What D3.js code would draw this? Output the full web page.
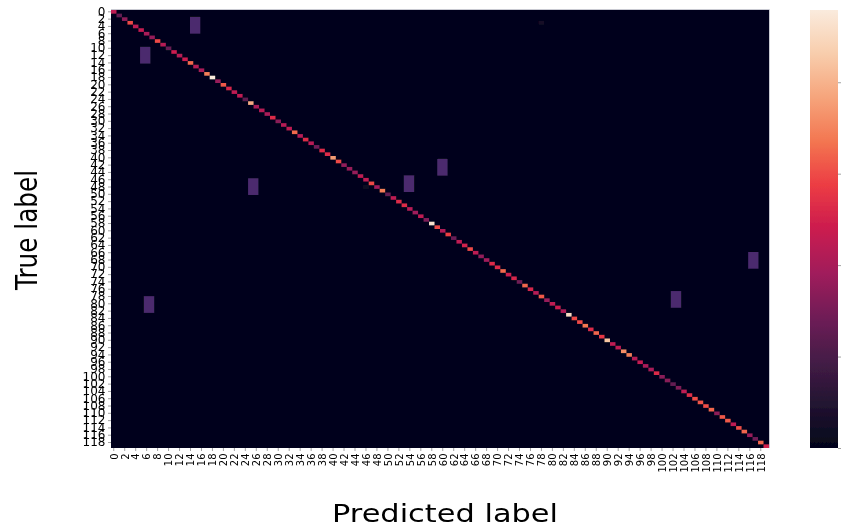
<!DOCTYPE html>
<html><head><meta charset="utf-8">
<script src="https://cdn.jsdelivr.net/npm/d3@7"></script>
<style>html,body{margin:0;padding:0;background:#fff}svg{display:block}text{font-family:"DejaVu Sans";fill:#000}</style>
</head><body><svg id="c" width="841" height="527"></svg>
<script>
const classes = d3.range(120);
const tickLabels = d3.range(0, 120, 2);
const diagonal = [
.47,.27,.36,.62,.47,.48,.42,.38,.62,.45,.28,.5,.45,.5,.68,.45,.42,.72,1,.38,
.65,.53,.47,.47,.25,.82,.42,.45,.42,.55,.35,.45,.47,.68,.45,.55,.45,.3,.55,.55,
.78,.62,.37,.38,.38,.47,.47,.62,.4,.72,.27,.47,.55,.55,.45,.4,.47,.33,.97,.62,
.43,.6,.28,.47,.52,.62,.47,.37,.4,.55,.55,.68,.5,.53,.3,.67,.53,.45,.65,.38,
.47,.5,.43,.95,.62,.62,.7,.55,.67,.58,.88,.47,.47,.75,.72,.45,.48,.42,.42,.55,
.35,.35,.27,.33,.47,.56,.63,.64,.63,.67,.36,.65,.65,.47,.63,.67,.38,.3,.67,.52];
const patchCols = [14.4,5.3,25.0,53.4,59.5,116.2,102.1,6.0];
const patchRows = [1.9,10.1,46.1,45.3,40.8,66.3,77.0,78.4];
const patchColSpan = 1.88, patchRowSpan = 4.58;
const faintCols = [78,46], faintRows = [3,48], faintValues = [.06,.04];
const rocketStops = ["#03051a","#221331","#451c47","#701f57","#a11a5b","#cb1b4f","#ec3c43","#f37651","#f6a47b","#f8cdac","#faebdd"];
const colorbarTicks = [0,1,2,3,4];
const colorbarMax = 4.79;
const patchColor = "#4b2b6e";

const svg = d3.select("#c");
const defs = svg.append("defs");
const f = defs.append("filter").attr("id","soft").attr("x","-2%").attr("y","-2%").attr("width","104%").attr("height","104%");
f.append("feGaussianBlur").attr("stdDeviation",0.4);
const root = svg.append("g").attr("filter","url(#soft)");

const L=111,R=769,T=10,B=448;
const x = d3.scaleBand().domain(classes).range([L,R]);
const y = d3.scaleBand().domain(classes).range([T,B]);
const xc = d3.scaleLinear().domain([0,120]).range([L,R]);
const yc = d3.scaleLinear().domain([0,120]).range([T,B]);
const color = d3.scaleLinear().domain(rocketStops.map((d,i)=>i/(rocketStops.length-1))).range(rocketStops).interpolate(d3.interpolateRgb);

root.append("rect").attr("x",L).attr("y",T).attr("width",R-L).attr("height",B-T).attr("fill",color(0));
root.append("path").attr("d",`M${L},${T-.5}H${R+.5}V${B}`).attr("fill","none").attr("stroke","#c9cad2").attr("stroke-width",1);

root.selectAll(".faint").data(faintCols).join("rect")
  .attr("x",d=>x(d)).attr("y",(d,i)=>y(faintRows[i])).attr("width",x.bandwidth()).attr("height",y.bandwidth())
  .attr("fill",(d,i)=>color(faintValues[i]));
root.selectAll(".patch").data(patchCols).join("rect")
  .attr("x",d=>xc(d)).attr("y",(d,i)=>yc(patchRows[i]))
  .attr("width",xc(patchColSpan)-xc(0)).attr("height",yc(patchRowSpan)-yc(0)).attr("fill",patchColor);
root.selectAll(".diag").data(diagonal).join("rect")
  .attr("x",(d,i)=>x(i)).attr("y",(d,i)=>y(i)).attr("width",x.bandwidth()).attr("height",y.bandwidth())
  .attr("fill",d=>color(d));

// x axis
const xg = root.append("g").attr("transform",`translate(0,${B})`)
  .call(d3.axisBottom(x).tickValues(tickLabels).tickSize(3).tickPadding(0));
xg.select(".domain").remove();
xg.selectAll("line").attr("stroke","#8a8a8a").attr("stroke-width",.8);
xg.selectAll("text").attr("text-anchor","end").attr("dy",null).attr("y",null).attr("x",null)
  .style("font-size","10.5px")
  .attr("transform","translate(3.8,5.5) rotate(-90) scale(0.95,1)");

// y axis
const yg = root.append("g").attr("transform",`translate(${L},0)`)
  .call(d3.axisLeft(y).tickValues(tickLabels).tickSize(3).tickPadding(2));
yg.select(".domain").remove();
yg.selectAll("line").attr("stroke","#8a8a8a").attr("stroke-width",.8);
yg.selectAll("text").style("font-size","12px").attr("transform","translate(-0.5,0) scale(1,1)");

// titles
root.append("text").attr("x",332).attr("y",521.5).attr("textLength",226).attr("lengthAdjust","spacingAndGlyphs")
  .style("font-size","24.5px").text("Predicted label");
root.append("text").attr("transform","translate(37,290) rotate(-90)").attr("textLength",120).attr("lengthAdjust","spacingAndGlyphs")
  .style("font-size","30px").text("True label");

// colorbar
const grad = defs.append("linearGradient").attr("id","cb").attr("x1",0).attr("x2",0).attr("y1",1).attr("y2",0);
grad.selectAll("stop").data(rocketStops).join("stop").attr("offset",(d,i)=>i/(rocketStops.length-1)).attr("stop-color",d=>d);
root.append("rect").attr("x",810).attr("y",T).attr("width",28).attr("height",B-T).attr("fill","url(#cb)");
const cs = d3.scaleLinear().domain([0,colorbarMax]).range([B,T]);
const cg = root.append("g").attr("transform","translate(838,0)")
  .call(d3.axisRight(cs).tickValues(colorbarTicks).tickSize(3).tickFormat(""));
cg.select(".domain").remove();
cg.selectAll("line").attr("stroke","#8a8a8a").attr("stroke-width",.8);
</script></body></html>
